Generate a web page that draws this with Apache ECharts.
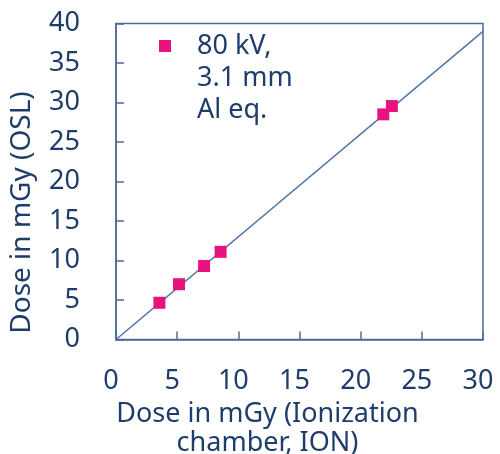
<!DOCTYPE html>
<html><head><meta charset="utf-8">
<script src="https://cdn.jsdelivr.net/npm/echarts@6/dist/echarts.min.js"></script>
<style>html,body{margin:0;padding:0;background:#fff}#c{width:500px;height:454px}</style>
</head><body><div id="c"></div>
<script>
const seriesName = "80 kV,\n3.1 mm\nAl eq.";
const ionDose = [3.55, 5.15, 7.2, 8.55, 21.85, 22.55];
const oslDose = [4.65, 7.0, 9.3, 11.1, 28.5, 29.55];
const fitLineX = [0, 30];
const fitLineY = [0, 39];
const xTicks = [0, 5, 10, 15, 20, 25, 30];
const yTicks = [0, 5, 10, 15, 20, 25, 30, 35, 40];
const xName = "Dose in mGy (Ionization\nchamber, ION)";
const yName = "Dose in mGy (OSL)";

const textColor = '#1f3d6b';
const axisColor = '#4c6b9b';
const font = 'Noto Sans';
const chart = echarts.init(document.getElementById('c'), null, {renderer: 'canvas'});
chart.setOption({
  animation: false,
  grid: {left: 116, right: 17, top: 23.5, bottom: 114.5, show: true, borderColor: axisColor, borderWidth: 1.5, backgroundColor: 'transparent', containLabel: false, outerBoundsMode: 'none'},
  legend: {
    left: 159, top: -34, padding: 0, itemWidth: 12, itemHeight: 12, itemGap: 0,
    icon: 'rect', align: 'left',
    data: [seriesName],
    formatter: n => ['', ''].concat(n.split('\n')).map(s => '{s|}' + s).join('\n'),
    textStyle: {
      color: textColor, fontFamily: font, fontSize: 27, lineHeight: 32,
      rich: {s: {width: 21, height: 32, lineHeight: 32}}
    }
  },
  xAxis: {
    type: 'value', min: xTicks[0], max: xTicks[xTicks.length-1], interval: 5,
    axisLine: {lineStyle: {color: axisColor, width: 1.5}},
    axisTick: {inside: true, length: 8, lineStyle: {color: axisColor, width: 1.5}},
    splitLine: {show: false},
    axisLabel: {color: textColor, fontFamily: font, fontSize: 27, margin: 28, padding: [0, 10, 0, 0]},
    name: xName, nameLocation: 'middle', nameGap: 54,
    nameTextStyle: {color: textColor, fontFamily: font, fontSize: 27, lineHeight: 29, padding: [0, 64, 0, 0]}
  },
  yAxis: {
    type: 'value', min: yTicks[0], max: yTicks[yTicks.length-1], interval: 5,
    axisLine: {lineStyle: {color: axisColor, width: 1.5}},
    axisTick: {inside: true, length: 8, lineStyle: {color: axisColor, width: 1.5}},
    splitLine: {show: false},
    axisLabel: {color: textColor, fontFamily: font, fontSize: 27, margin: 36},
    name: yName, nameLocation: 'middle', nameGap: 80,
    nameTextStyle: {color: textColor, fontFamily: font, fontSize: 28, padding: [0, 62, 0, 0]}
  },
  series: [
    {
      type: 'line', data: fitLineX.map((x, i) => [x, fitLineY[i]]),
      showSymbol: false, symbol: 'none', silent: true,
      lineStyle: {color: '#4f74a5', width: 1.5}, z: 1
    },
    {
      name: seriesName, type: 'scatter', data: ionDose.map((x, i) => [x, oslDose[i]]),
      symbol: 'rect', symbolSize: 12, itemStyle: {color: '#e8137e', opacity: 1}, z: 3
    }
  ]
});
</script></body></html>
